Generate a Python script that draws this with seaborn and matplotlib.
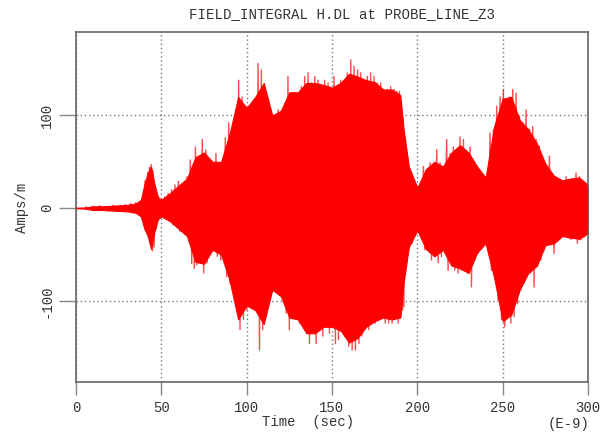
import matplotlib
matplotlib.use("Agg")
import matplotlib.pyplot as plt
import numpy as np
import pandas as pd
import seaborn as sns

# ---- data ----
# peak (spike) envelope of the dense oscillation
time_ns = [0, 5, 6, 10, 14, 18, 22, 26, 29, 32, 35, 37, 39, 40.5, 42, 43, 44, 45, 46, 47, 48.5, 50,
           52, 54, 56, 58, 60, 61.5, 63, 65, 67, 68.5, 70, 72, 74, 76, 78, 80, 82, 84, 85.6, 87.5,
           89.5, 91.5, 93.5, 95.3, 97.3, 99.2,
           100.8, 102.8, 104.7, 106.7, 108.6, 110.6, 112.5, 114.5, 116.4, 118.4, 120.3, 122.3, 124.2,
           126.2, 128.1, 130.1, 132, 134, 136, 137.9, 139.9, 141.8, 143.8, 145.7, 147.7, 149.6,
           151.2, 153, 155.1, 157, 159, 161, 162.9, 165, 166.8, 168.5, 170.7, 172.6, 174.6, 176.5,
           178.5, 180.4, 182.4, 184.4, 186.4, 188, 189.5, 190.5, 191.3, 192.6, 194.2, 196.1, 198.1, 200,
           201.6, 203.6, 205.5, 207.5, 209.4, 211.4, 213.3, 215.3, 217.2, 219.2, 221.1, 223.1, 225,
           227, 228.9, 230.9, 232.9, 234.8, 236.8, 238.7, 240.7, 242.6, 244.6, 246.5, 248.5, 250.4,
           252, 254, 255.9, 257.9, 259.8, 261.8, 263.7, 265.7, 267.6, 269.6, 271.5, 273.5, 275.4,
           277.4, 279.3, 281.3, 283.3, 285.2, 287.2, 289.1, 291.1, 293, 295, 297, 298.9, 300]
peak_upper = [0, 0, 1.5, 2, 2.5, 2, 3, 3, 4, 5, 6, 5, 10, 30, 38, 44, 47, 40, 23, 14, 9, 9,
              12, 16, 20, 25, 29, 24, 20, 34, 52, 45, 66, 56, 74, 63, 45, 50, 59, 49, 27, 76,
              92, 77, 81, 138, 120, 110,
              110, 81, 113, 156, 149, 131, 110, 63, 99, 106, 81, 113, 142,
              103, 113, 120, 131, 142, 146, 135, 142, 138, 131, 138, 135, 128,
              142, 128, 138, 120, 146, 160, 153, 149, 146, 110, 142, 146, 142, 135,
              135, 120, 128, 131, 128, 126, 126, 110, 99, 67, 49, 34, 23, 16,
              23, 45, 41, 49, 38, 63, 49, 20, 74, 59, 66, 63, 77,
              74, 56, 66, 52, 45, 34, 23, 34, 81, 85, 110, 120, 128,
              103, 120, 128, 124, 99, 92, 106, 85, 88, 74, 67, 49, 41,
              56, 34, 31, 27, 27, 34, 27, 31, 38, 34, 27, 25, 23]
peak_lower = [0, 0, -1.5, -2, -2, -3, -2.5, -3, -4, -5, -6, -5, -10, -25, -30, -40, -46, -42, -23, -14, -10, -9,
              -11, -14, -18, -20, -25, -22, -28, -31, -60, -65, -61, -52, -70, -59, -45, -43, -52, -56, -23, -74,
              -81, -74, -85, -131, -120, -110,
              -106, -81, -95, -153, -131, -117, -92, -52, -88, -92, -81, -113, -131,
              -106, -113, -124, -117, -131, -146, -131, -146, -131, -138, -124, -135, -124,
              -146, -142, -124, -138, -149, -153, -153, -146, -138, -124, -131, -124, -124, -121,
              -117, -124, -124, -124, -117, -124, -117, -110, -106, -59, -45, -38, -27, -20,
              -31, -45, -41, -56, -45, -59, -52, -23, -67, -59, -67, -70, -67,
              -59, -59, -85, -56, -49, -38, -31, -41, -67, -77, -99, -120, -128,
              -113, -124, -117, -103, -88, -81, -59, -70, -85, -63, -56, -41, -34,
              -38, -49, -31, -27, -31, -27, -34, -31, -38, -34, -31, -23, -27]

# solid body (dense core) envelope
core_t = [0, 5, 10, 15, 20, 25, 30, 35, 38, 40, 42, 44, 46, 48, 50, 55, 60, 65, 70, 75, 80, 85, 90, 95,
          100, 105, 110, 115, 120, 125, 130, 135, 140, 145, 150, 155, 160, 165, 170, 175, 180, 185,
          190, 192, 195, 200, 205, 210, 215, 220, 225, 230, 235, 240, 245, 250, 255, 260, 265, 270,
          275, 280, 285, 290, 295, 300]
core_upper = [0, 0.5, 2, 2, 2.5, 3, 3.5, 5, 9, 25, 38, 45, 26, 12, 9, 16, 24, 32, 55, 60, 50, 50, 80, 120,
              108, 120, 135, 100, 105, 125, 125, 135, 135, 133, 130, 135, 145, 142, 138, 136, 128, 128,
              122, 85, 45, 22, 42, 50, 45, 60, 68, 60, 45, 33, 88, 118, 120, 95, 85, 70,
              48, 35, 30, 32, 33, 25]
core_lower = [0, -0.5, -2, -2, -2.5, -3, -3.5, -5, -9, -22, -30, -44, -25, -12, -9, -14, -22, -30, -58, -60, -45, -50, -78, -120,
              -105, -110, -125, -88, -95, -118, -120, -135, -135, -128, -128, -132, -145, -140, -128, -122, -118, -120,
              -118, -80, -42, -24, -44, -52, -45, -62, -65, -70, -48, -38, -75, -122, -115, -88, -70, -62,
              -40, -38, -30, -32, -33, -27]

x_ticks = [0, 50, 100, 150, 200, 250, 300]
y_ticks = [-100, 0, 100]

sns.set_style("ticks")
plt.rcParams["font.family"] = ["Liberation Mono", "DejaVu Sans Mono"]

fig = plt.figure(figsize=(6.09, 4.34), dpi=100)
ax = fig.add_axes([76 / 609, 1 - 381.5 / 434, 512 / 609, 349.5 / 434])

# zig-zag through the peak values (upper, lower, upper, ...)
zz_t, zz_v = [], []
for t, u, l in zip(time_ns, peak_upper, peak_lower):
    zz_t += [t, t + 0.8]
    zz_v += [u, l]
zigzag = pd.DataFrame({"Time": zz_t, "Value": zz_v})

ax.fill_between(core_t, core_lower, core_upper, color="#ff0000", lw=0.8,
                edgecolor="#ff0000", zorder=2)
sns.lineplot(data=zigzag, x="Time", y="Value", sort=False, estimator=None,
             color="#ff0000", lw=1.0, alpha=0.7, ax=ax, zorder=3)

ax.set_xlim(0, 300)
ax.set_ylim(-187, 190)
ax.set_xticks(x_ticks)
ax.set_yticks(y_ticks)
ax.set_xticklabels([str(v) for v in x_ticks])
ax.set_yticklabels([str(v) for v in y_ticks], rotation=90, va="center")

ax.grid(True, linestyle=(0, (1, 2)), color="#777777", lw=1.0, zorder=1)
ax.set_axisbelow(True)
for s in ax.spines.values():
    s.set_color("#666666")
    s.set_linewidth(1.2)

ax.tick_params(axis="x", direction="out", length=9, width=1, color="#888888",
               labelsize=10, labelcolor="#333333", pad=5)
ax.tick_params(axis="y", direction="out", length=12, width=1, color="#888888",
               labelsize=10, labelcolor="#333333", pad=4)

ax.set_xlabel("Time  (sec)", fontsize=10, color="#333333")
ax.xaxis.set_label_coords((308 - 76) / 512, -0.095)
ax.set_ylabel("Amps/m", fontsize=10, color="#333333")
ax.yaxis.set_label_coords(-0.092, (381.5 - 208) / 349.5)

fig.text(342 / 609, 1 - 14 / 434, "FIELD_INTEGRAL H.DL at PROBE_LINE_Z3",
         ha="center", va="center", fontsize=10.2, color="#333333")
fig.text(590 / 609, 1 - 424 / 434, "(E-9)", ha="right", va="center",
         fontsize=10, color="#333333")

fig.savefig("out.png", dpi=100)
